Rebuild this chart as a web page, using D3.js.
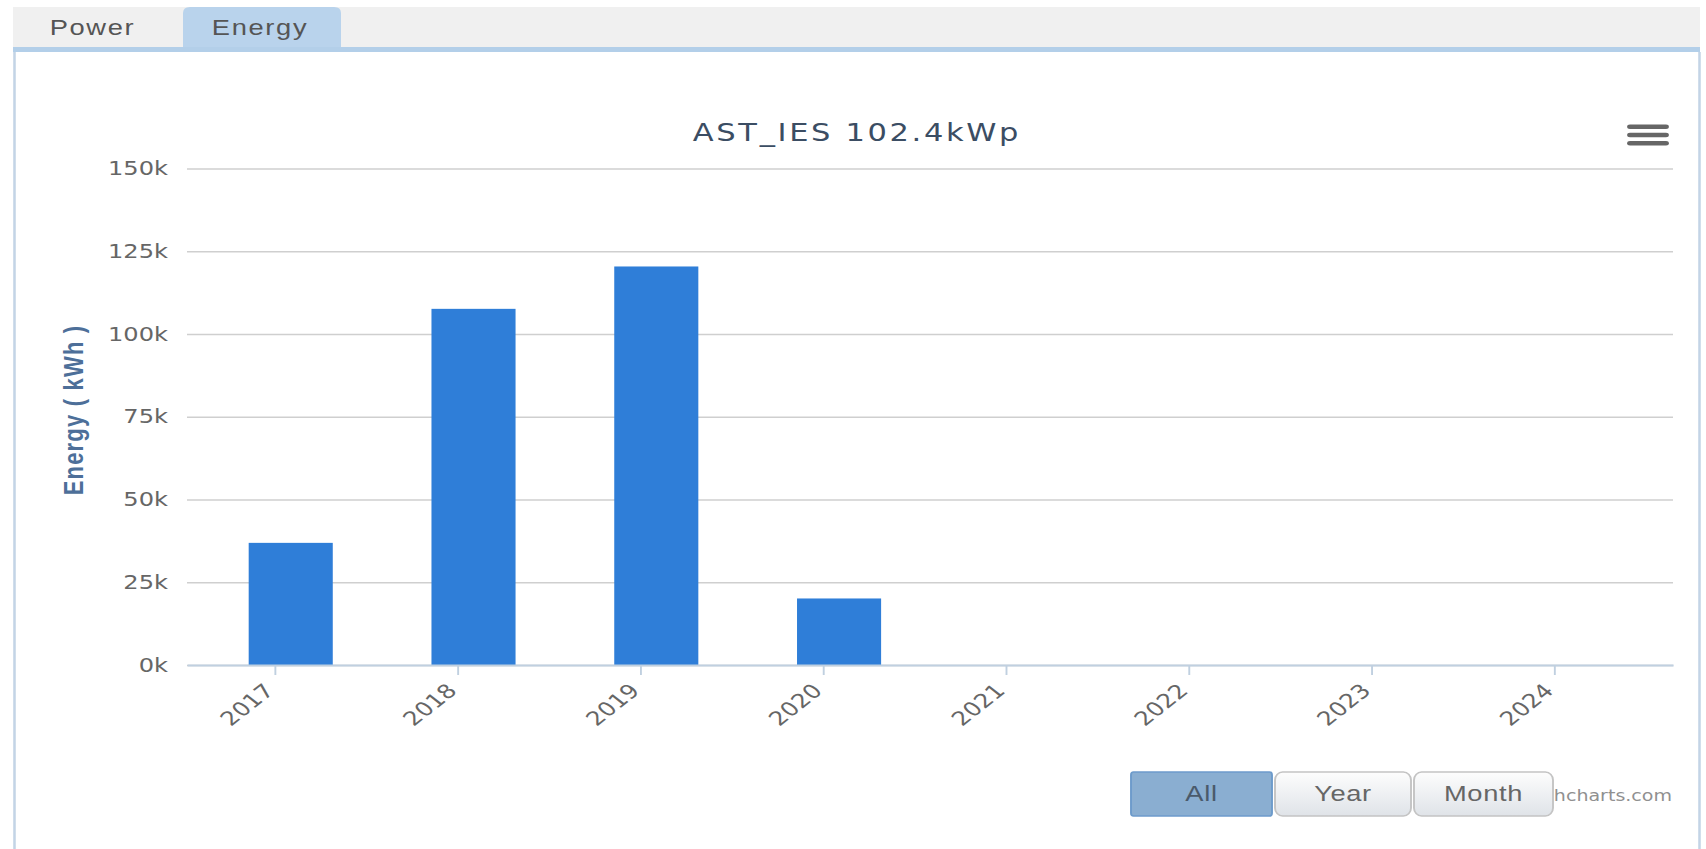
<!DOCTYPE html>
<html>
<head>
<meta charset="utf-8">
<script src="https://cdn.jsdelivr.net/npm/d3@7"></script>
<style>
  html, body { margin: 0; padding: 0; background: #fff; overflow: hidden; }
  svg { display: block; }
</style>
</head>
<body>
<div id="chart"></div>
<script>
// chart values
const years = ["2017", "2018", "2019", "2020", "2021", "2022", "2023", "2024"];
const energy = [36900, 107600, 120400, 20100, null, null, null, null];
const yTicks = [0, 25000, 50000, 75000, 100000, 125000, 150000];
const tabs = ["Power", "Energy"];
const buttons = ["All", "Year", "Month"];
const title = "AST_IES 102.4kWp";

let w = 1706, h = 849;
// the screenshot is stretched sideways, so draw in narrower units and stretch
const SX = 1.27;
const sx = x => x / SX;

let svg = d3.select("#chart").append("svg")
    .attr("width", w).attr("height", h)
    .attr("viewBox", `0 0 ${sx(w)} ${h}`)
    .attr("preserveAspectRatio", "none");

// tab strip
svg.append("rect").attr("x", sx(13)).attr("y", 7).attr("width", sx(1700) - sx(13)).attr("height", 40).attr("fill", "#f0f0f0");
svg.append("path")
    .attr("d", `M${sx(183)},47 V13 Q${sx(183)},7 ${sx(190)},7 H${sx(334)} Q${sx(341)},7 ${sx(341)},13 V47 Z`)
    .attr("fill", "#b9d3ec");
let tabX = [92.5, 260];
svg.selectAll(".tab").data(tabs).enter().append("text")
    .attr("class", "tab")
    .attr("x", (d, i) => sx(tabX[i])).attr("y", 35)
    .attr("text-anchor", "middle")
    .style("font-family", "Liberation Sans, Arial, sans-serif")
    .style("font-size", "21.5px")
    .style("letter-spacing", "1.3px")
    .attr("fill", "#555")
    .text(d => d);

// panel
svg.append("rect").attr("x", sx(13)).attr("y", 47).attr("width", sx(1700) - sx(13)).attr("height", 5).attr("fill", "#b3cfe9");
svg.append("line").attr("x1", sx(14.5)).attr("x2", sx(14.5)).attr("y1", 52).attr("y2", h).attr("stroke", "#c3d4e6").attr("stroke-width", 2);
svg.append("line").attr("x1", sx(1699.5)).attr("x2", sx(1699.5)).attr("y1", 52).attr("y2", h).attr("stroke", "#c3d4e6").attr("stroke-width", 2);

// scales
let plotLeft = 187, plotRight = 1673, plotTop = 168.5, plotBottom = 665;
let xScale = d3.scaleLinear().domain([-0.48, 7.65]).range([sx(plotLeft), sx(plotRight)]);
let yScale = d3.scaleLinear().domain([0, 150000]).range([plotBottom, plotTop]);
let step = xScale(1) - xScale(0);

// y axis with grid
let yAxis = d3.axisLeft(yScale)
    .tickValues(yTicks)
    .tickFormat(d => (d / 1000) + "k")
    .tickSize(-(sx(plotRight) - sx(plotLeft)))
    .tickPadding(sx(plotLeft) - sx(168));
let gy = svg.append("g").attr("transform", `translate(${sx(plotLeft)},0)`).call(yAxis);
gy.select(".domain").remove();
gy.selectAll(".tick line").attr("stroke", "#cfcfcf").attr("stroke-width", 1.5);
gy.selectAll(".tick text")
    .attr("fill", "#666")
    .style("font-family", "DejaVu Sans, Verdana, sans-serif")
    .style("font-size", "19px");

// bars
svg.selectAll(".bar")
    .data(energy.map((v, i) => ({ v, i })).filter(d => d.v != null))
    .enter().append("rect")
    .attr("class", "bar")
    .attr("x", d => xScale(d.i) + step * 0.0875 - step * 0.23)
    .attr("width", step * 0.46)
    .attr("y", d => yScale(d.v))
    .attr("height", d => yScale(0) - yScale(d.v))
    .attr("fill", "#2f7ed8");

// x axis
let xAxis = d3.axisBottom(xScale)
    .tickValues(d3.range(years.length))
    .tickFormat(i => years[i])
    .tickSize(10)
    .tickSizeOuter(0);
let gx = svg.append("g").attr("transform", `translate(0,${plotBottom})`).call(xAxis);
gx.select(".domain").attr("stroke", "#c0d0e0").attr("stroke-width", 2);
gx.selectAll(".tick line").attr("stroke", "#c0d0e0").attr("stroke-width", 1.5);
gx.selectAll(".tick text")
    .attr("fill", "#666")
    .attr("text-anchor", "end")
    .attr("y", 0).attr("dy", 0)
    .attr("transform", "translate(0,27) rotate(-45)")
    .style("font-family", "DejaVu Sans, Verdana, sans-serif")
    .style("font-size", "19.5px");

// y axis title
svg.append("text")
    .attr("transform", `translate(${sx(83)},410) rotate(-90)`)
    .attr("text-anchor", "middle")
    .attr("fill", "#4d6f99")
    .style("font-family", "Liberation Sans, Arial, sans-serif")
    .style("font-weight", "bold")
    .style("font-size", "22px")
    .style("letter-spacing", "1.2px")
    .text("Energy ( kWh )");

// title
svg.append("text")
    .attr("x", sx(857)).attr("y", 140.7)
    .attr("text-anchor", "middle")
    .attr("fill", "#3b4d63")
    .style("font-family", "DejaVu Sans, Verdana, sans-serif")
    .style("font-size", "24px")
    .style("letter-spacing", "2.1px")
    .text(title);

// export menu icon
svg.selectAll(".menu").data([0, 1, 2]).enter().append("line")
    .attr("x1", sx(1630)).attr("x2", sx(1666))
    .attr("y1", d => 126.7 + d * 8.3).attr("y2", d => 126.7 + d * 8.3)
    .attr("stroke", "#666").attr("stroke-width", 4.5).attr("stroke-linecap", "round");

// credits
svg.append("text")
    .attr("x", sx(1672)).attr("y", 801)
    .attr("text-anchor", "end")
    .attr("fill", "#909090")
    .style("font-family", "DejaVu Sans, Verdana, sans-serif")
    .style("font-size", "15px")
    .text("Highcharts.com");

// range buttons
let defs = svg.append("defs");
let grad = defs.append("linearGradient").attr("id", "btn").attr("x1", 0).attr("x2", 0).attr("y1", 0).attr("y2", 1);
grad.append("stop").attr("offset", "0%").attr("stop-color", "#fdfdfd");
grad.append("stop").attr("offset", "100%").attr("stop-color", "#dfe3e8");
let btnX = [1131, 1275, 1414];
let btnW = [141, 136, 139];
let btn = svg.selectAll(".btn").data(buttons).enter().append("g").attr("class", "btn");
btn.append("rect")
    .attr("x", (d, i) => sx(btnX[i])).attr("y", 772)
    .attr("width", (d, i) => sx(btnW[i])).attr("height", 44)
    .attr("rx", (d, i) => i == 0 ? 2 : 6).attr("ry", (d, i) => i == 0 ? 3 : 8)
    .attr("fill", (d, i) => i == 0 ? "#8aaed1" : "url(#btn)")
    .attr("stroke", (d, i) => i == 0 ? "#6d9bcb" : "#c4c4c4")
    .attr("stroke-width", 1.5);
btn.append("text")
    .attr("x", (d, i) => sx(btnX[i] + btnW[i] / 2)).attr("y", 801.5)
    .attr("text-anchor", "middle")
    .attr("fill", (d, i) => i == 0 ? "#4a5a6b" : "#666")
    .style("font-family", "Liberation Sans, Arial, sans-serif")
    .style("font-size", "21.5px")
    .style("letter-spacing", "0.5px")
    .text(d => d);
</script>
</body>
</html>
